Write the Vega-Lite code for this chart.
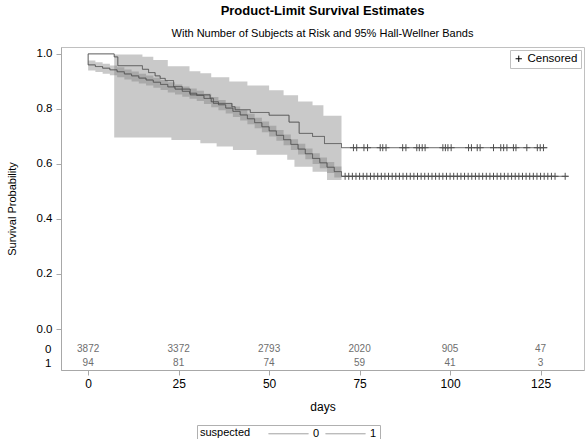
{
  "$schema": "https://vega.github.io/schema/vega-lite/v6.json",
  "width": 523,
  "height": 323,
  "autosize": "none",
  "padding": {"left": 61, "top": 47, "right": 1, "bottom": 69},
  "config": {
    "font": "Liberation Sans",
    "view": {"stroke": "#c0c0c0"},
    "axis": {"grid": false, "domainColor": "#a8a8a8", "tickColor": "#a8a8a8", "labelColor": "#000", "titleColor": "#000", "labelFont": "Liberation Sans", "titleFont": "Liberation Sans", "titleFontWeight": "normal"},
    "legend": {"labelFont": "Liberation Sans", "titleFont": "Liberation Sans"}
  },
  "title": {
    "text": "Product-Limit Survival Estimates",
    "subtitle": "With Number of Subjects at Risk and 95% Hall-Wellner Bands",
    "fontSize": 13,
    "fontWeight": "bold",
    "subtitleFontSize": 11,
    "subtitleColor": "#000",
    "subtitlePadding": 10,
    "anchor": "middle",
    "offset": 8
  },
  "datasets": {
    "band": [
      {"g": "1", "day": 7.2, "hi": 0.998, "lo": 0.696},
      {"g": "1", "day": 15, "hi": 0.99, "lo": 0.696},
      {"g": "1", "day": 18, "hi": 0.978, "lo": 0.696},
      {"g": "1", "day": 22, "hi": 0.955, "lo": 0.696},
      {"g": "1", "day": 23, "hi": 0.955, "lo": 0.687},
      {"g": "1", "day": 28, "hi": 0.937, "lo": 0.687},
      {"g": "1", "day": 31, "hi": 0.93, "lo": 0.675},
      {"g": "1", "day": 34, "hi": 0.915, "lo": 0.675},
      {"g": "1", "day": 35.5, "hi": 0.915, "lo": 0.663},
      {"g": "1", "day": 39, "hi": 0.9, "lo": 0.663},
      {"g": "1", "day": 40, "hi": 0.9, "lo": 0.651},
      {"g": "1", "day": 44, "hi": 0.885, "lo": 0.651},
      {"g": "1", "day": 46.5, "hi": 0.885, "lo": 0.633},
      {"g": "1", "day": 50, "hi": 0.868, "lo": 0.633},
      {"g": "1", "day": 54, "hi": 0.85, "lo": 0.633},
      {"g": "1", "day": 55, "hi": 0.85, "lo": 0.615},
      {"g": "1", "day": 57, "hi": 0.85, "lo": 0.59},
      {"g": "1", "day": 58, "hi": 0.827, "lo": 0.59},
      {"g": "1", "day": 62, "hi": 0.813, "lo": 0.572},
      {"g": "1", "day": 65, "hi": 0.775, "lo": 0.572},
      {"g": "1", "day": 66, "hi": 0.775, "lo": 0.542},
      {"g": "1", "day": 70, "hi": 0.775, "lo": 0.542},
      {"g": "0", "day": 0, "lo": 0.940, "hi": 0.976},
      {"g": "0", "day": 2, "lo": 0.934, "hi": 0.970},
      {"g": "0", "day": 4, "lo": 0.928, "hi": 0.964},
      {"g": "0", "day": 6, "lo": 0.922, "hi": 0.958},
      {"g": "0", "day": 8, "lo": 0.915, "hi": 0.951},
      {"g": "0", "day": 10, "lo": 0.907, "hi": 0.943},
      {"g": "0", "day": 12, "lo": 0.900, "hi": 0.936},
      {"g": "0", "day": 14, "lo": 0.892, "hi": 0.928},
      {"g": "0", "day": 16, "lo": 0.885, "hi": 0.921},
      {"g": "0", "day": 18, "lo": 0.877, "hi": 0.913},
      {"g": "0", "day": 20, "lo": 0.869, "hi": 0.905},
      {"g": "0", "day": 22, "lo": 0.860, "hi": 0.897},
      {"g": "0", "day": 24, "lo": 0.852, "hi": 0.889},
      {"g": "0", "day": 26, "lo": 0.844, "hi": 0.881},
      {"g": "0", "day": 28, "lo": 0.837, "hi": 0.874},
      {"g": "0", "day": 30, "lo": 0.829, "hi": 0.866},
      {"g": "0", "day": 32, "lo": 0.818, "hi": 0.855},
      {"g": "0", "day": 34, "lo": 0.806, "hi": 0.843},
      {"g": "0", "day": 36, "lo": 0.795, "hi": 0.832},
      {"g": "0", "day": 38, "lo": 0.783, "hi": 0.821},
      {"g": "0", "day": 40, "lo": 0.771, "hi": 0.809},
      {"g": "0", "day": 42, "lo": 0.758, "hi": 0.796},
      {"g": "0", "day": 44, "lo": 0.744, "hi": 0.782},
      {"g": "0", "day": 46, "lo": 0.730, "hi": 0.768},
      {"g": "0", "day": 48, "lo": 0.715, "hi": 0.754},
      {"g": "0", "day": 50, "lo": 0.700, "hi": 0.739},
      {"g": "0", "day": 52, "lo": 0.684, "hi": 0.723},
      {"g": "0", "day": 54, "lo": 0.668, "hi": 0.707},
      {"g": "0", "day": 56, "lo": 0.651, "hi": 0.690},
      {"g": "0", "day": 58, "lo": 0.634, "hi": 0.673},
      {"g": "0", "day": 60, "lo": 0.617, "hi": 0.656},
      {"g": "0", "day": 62, "lo": 0.600, "hi": 0.639},
      {"g": "0", "day": 64, "lo": 0.584, "hi": 0.623},
      {"g": "0", "day": 66, "lo": 0.567, "hi": 0.607},
      {"g": "0", "day": 68, "lo": 0.551, "hi": 0.591},
      {"g": "0", "day": 70, "lo": 0.534, "hi": 0.574}
    ],
    "curve": [
      {"g": "0", "day": 0, "s": 1.0},
      {"g": "0", "day": 0, "s": 0.960},
      {"g": "0", "day": 2, "s": 0.954},
      {"g": "0", "day": 4, "s": 0.948},
      {"g": "0", "day": 6, "s": 0.942},
      {"g": "0", "day": 8, "s": 0.935},
      {"g": "0", "day": 10, "s": 0.927},
      {"g": "0", "day": 12, "s": 0.920},
      {"g": "0", "day": 14, "s": 0.912},
      {"g": "0", "day": 16, "s": 0.905},
      {"g": "0", "day": 18, "s": 0.897},
      {"g": "0", "day": 20, "s": 0.889},
      {"g": "0", "day": 22, "s": 0.880},
      {"g": "0", "day": 24, "s": 0.872},
      {"g": "0", "day": 26, "s": 0.864},
      {"g": "0", "day": 28, "s": 0.857},
      {"g": "0", "day": 30, "s": 0.849},
      {"g": "0", "day": 32, "s": 0.838},
      {"g": "0", "day": 34, "s": 0.826},
      {"g": "0", "day": 36, "s": 0.815},
      {"g": "0", "day": 38, "s": 0.803},
      {"g": "0", "day": 40, "s": 0.791},
      {"g": "0", "day": 42, "s": 0.778},
      {"g": "0", "day": 44, "s": 0.764},
      {"g": "0", "day": 46, "s": 0.750},
      {"g": "0", "day": 48, "s": 0.735},
      {"g": "0", "day": 50, "s": 0.720},
      {"g": "0", "day": 52, "s": 0.704},
      {"g": "0", "day": 54, "s": 0.688},
      {"g": "0", "day": 56, "s": 0.671},
      {"g": "0", "day": 58, "s": 0.654},
      {"g": "0", "day": 60, "s": 0.637},
      {"g": "0", "day": 62, "s": 0.620},
      {"g": "0", "day": 64, "s": 0.604},
      {"g": "0", "day": 66, "s": 0.588},
      {"g": "0", "day": 68, "s": 0.572},
      {"g": "0", "day": 70, "s": 0.555},
      {"g": "0", "day": 132.7, "s": 0.555},
      {"g": "1", "day": 0, "s": 1.0},
      {"g": "1", "day": 7.2, "s": 0.989},
      {"g": "1", "day": 8.2, "s": 0.957},
      {"g": "1", "day": 15, "s": 0.944},
      {"g": "1", "day": 16.7, "s": 0.932},
      {"g": "1", "day": 18.5, "s": 0.92},
      {"g": "1", "day": 19.9, "s": 0.911},
      {"g": "1", "day": 21.3, "s": 0.903},
      {"g": "1", "day": 23.6, "s": 0.881},
      {"g": "1", "day": 26, "s": 0.872},
      {"g": "1", "day": 28.2, "s": 0.851},
      {"g": "1", "day": 33.7, "s": 0.839},
      {"g": "1", "day": 34.6, "s": 0.82},
      {"g": "1", "day": 39.7, "s": 0.808},
      {"g": "1", "day": 40.6, "s": 0.797},
      {"g": "1", "day": 44.8, "s": 0.787},
      {"g": "1", "day": 50, "s": 0.777},
      {"g": "1", "day": 55.5, "s": 0.752},
      {"g": "1", "day": 58.3, "s": 0.711},
      {"g": "1", "day": 62, "s": 0.70},
      {"g": "1", "day": 65.3, "s": 0.674},
      {"g": "1", "day": 70, "s": 0.659},
      {"g": "1", "day": 126.9, "s": 0.659}
    ],
    "cens": [
      {"g": "1", "day": 73.3, "s": 0.659}, {"g": "1", "day": 74.2, "s": 0.659},
      {"g": "1", "day": 76.2, "s": 0.659}, {"g": "1", "day": 77.2, "s": 0.659},
      {"g": "1", "day": 80.7, "s": 0.659}, {"g": "1", "day": 81.4, "s": 0.659},
      {"g": "1", "day": 82.3, "s": 0.659}, {"g": "1", "day": 86.9, "s": 0.659},
      {"g": "1", "day": 87.8, "s": 0.659}, {"g": "1", "day": 90.8, "s": 0.659},
      {"g": "1", "day": 91.5, "s": 0.659}, {"g": "1", "day": 92.3, "s": 0.659},
      {"g": "1", "day": 93.1, "s": 0.659}, {"g": "1", "day": 98.0, "s": 0.659},
      {"g": "1", "day": 98.7, "s": 0.659}, {"g": "1", "day": 99.4, "s": 0.659},
      {"g": "1", "day": 100.3, "s": 0.659}, {"g": "1", "day": 105.1, "s": 0.659},
      {"g": "1", "day": 105.9, "s": 0.659}, {"g": "1", "day": 107.5, "s": 0.659},
      {"g": "1", "day": 108.3, "s": 0.659}, {"g": "1", "day": 112.0, "s": 0.659},
      {"g": "1", "day": 114.0, "s": 0.659}, {"g": "1", "day": 114.8, "s": 0.659},
      {"g": "1", "day": 115.7, "s": 0.659}, {"g": "1", "day": 117.5, "s": 0.659},
      {"g": "1", "day": 118.2, "s": 0.659}, {"g": "1", "day": 121.2, "s": 0.659},
      {"g": "1", "day": 124.1, "s": 0.659}, {"g": "1", "day": 124.9, "s": 0.659},
      {"g": "1", "day": 125.8, "s": 0.659},
      {"g": "0", "day": 71, "s": 0.555}, {"g": "0", "day": 72, "s": 0.555}, {"g": "0", "day": 73, "s": 0.555},
      {"g": "0", "day": 74, "s": 0.555}, {"g": "0", "day": 75, "s": 0.555}, {"g": "0", "day": 76, "s": 0.555},
      {"g": "0", "day": 77, "s": 0.555}, {"g": "0", "day": 78, "s": 0.555}, {"g": "0", "day": 79, "s": 0.555},
      {"g": "0", "day": 80, "s": 0.555}, {"g": "0", "day": 81, "s": 0.555}, {"g": "0", "day": 82, "s": 0.555},
      {"g": "0", "day": 83, "s": 0.555}, {"g": "0", "day": 84, "s": 0.555}, {"g": "0", "day": 85, "s": 0.555},
      {"g": "0", "day": 86, "s": 0.555}, {"g": "0", "day": 87, "s": 0.555}, {"g": "0", "day": 88, "s": 0.555},
      {"g": "0", "day": 89, "s": 0.555}, {"g": "0", "day": 90, "s": 0.555}, {"g": "0", "day": 91, "s": 0.555},
      {"g": "0", "day": 92, "s": 0.555}, {"g": "0", "day": 93, "s": 0.555}, {"g": "0", "day": 94, "s": 0.555},
      {"g": "0", "day": 95, "s": 0.555}, {"g": "0", "day": 96, "s": 0.555}, {"g": "0", "day": 97, "s": 0.555},
      {"g": "0", "day": 98, "s": 0.555}, {"g": "0", "day": 99, "s": 0.555}, {"g": "0", "day": 100, "s": 0.555},
      {"g": "0", "day": 101, "s": 0.555}, {"g": "0", "day": 102, "s": 0.555}, {"g": "0", "day": 103, "s": 0.555},
      {"g": "0", "day": 104, "s": 0.555}, {"g": "0", "day": 105, "s": 0.555}, {"g": "0", "day": 106, "s": 0.555},
      {"g": "0", "day": 107, "s": 0.555}, {"g": "0", "day": 108, "s": 0.555}, {"g": "0", "day": 109, "s": 0.555},
      {"g": "0", "day": 110, "s": 0.555}, {"g": "0", "day": 111, "s": 0.555}, {"g": "0", "day": 112, "s": 0.555},
      {"g": "0", "day": 113, "s": 0.555}, {"g": "0", "day": 114, "s": 0.555}, {"g": "0", "day": 115, "s": 0.555},
      {"g": "0", "day": 116, "s": 0.555}, {"g": "0", "day": 117, "s": 0.555}, {"g": "0", "day": 118, "s": 0.555},
      {"g": "0", "day": 119, "s": 0.555}, {"g": "0", "day": 120, "s": 0.555}, {"g": "0", "day": 121, "s": 0.555},
      {"g": "0", "day": 122, "s": 0.555}, {"g": "0", "day": 123, "s": 0.555}, {"g": "0", "day": 124, "s": 0.555},
      {"g": "0", "day": 125, "s": 0.555}, {"g": "0", "day": 126, "s": 0.555}, {"g": "0", "day": 127, "s": 0.555},
      {"g": "0", "day": 128, "s": 0.555}, {"g": "0", "day": 129, "s": 0.555}, {"g": "0", "day": 131.8, "s": 0.555}
    ],
    "risk": [
      {"g": "0", "day": 0, "n": 3872}, {"g": "0", "day": 25, "n": 3372}, {"g": "0", "day": 50, "n": 2793},
      {"g": "0", "day": 75, "n": 2020}, {"g": "0", "day": 100, "n": 905}, {"g": "0", "day": 125, "n": 47},
      {"g": "1", "day": 0, "n": 94}, {"g": "1", "day": 25, "n": 81}, {"g": "1", "day": 50, "n": 74},
      {"g": "1", "day": 75, "n": 59}, {"g": "1", "day": 100, "n": 41}, {"g": "1", "day": 125, "n": 3}
    ]
  },
  "resolve": {"scale": {"y": "independent"}},
  "layer": [
    {
      "layer": [
        {
          "data": {"name": "band"},
          "mark": {"type": "area", "interpolate": "step-after", "fill": "#7f7f7f", "opacity": 0.42},
          "encoding": {
            "x": {"field": "day", "type": "quantitative", "scale": {"domain": [-7.5, 137], "nice": false, "zero": false},
                  "axis": {"values": [0, 25, 50, 75, 100, 125], "title": "days", "labelFontSize": 12, "titleFontSize": 12, "tickSize": 5, "labelPadding": 3, "titlePadding": 12}},
            "y": {"field": "lo", "type": "quantitative", "scale": {"domain": [-0.149, 1.025], "nice": false, "zero": false},
                  "axis": {"values": [0, 0.2, 0.4, 0.6, 0.8, 1.0], "format": ".1f", "title": "Survival Probability", "labelFontSize": 11.5, "titleFontSize": 11, "tickSize": 5, "labelPadding": 4, "titlePadding": 19}},
            "y2": {"field": "hi"},
            "detail": {"field": "g", "type": "nominal"}
          }
        },
        {
          "data": {"name": "curve"},
          "mark": {"type": "line", "interpolate": "step-after", "stroke": "#505050", "strokeWidth": 1},
          "encoding": {
            "x": {"field": "day", "type": "quantitative"},
            "y": {"field": "s", "type": "quantitative"},
            "strokeDash": {"field": "g", "type": "nominal", "scale": {"domain": ["0", "1"], "range": [[1, 0], [1, 0]]},
              "legend": {"title": "suspected", "orient": "none", "legendX": 136, "legendY": 378, "direction": "horizontal", "titleOrient": "left",
                "strokeColor": "#b0b0b0", "padding": 3, "symbolType": "M-4,0H4", "symbolSize": 100, "symbolStrokeColor": "#909090", "symbolStrokeWidth": 1,
                "labelFontSize": 11, "titleFontSize": 11, "titleFontWeight": "normal", "titlePadding": 32, "columnPadding": 3, "labelOffset": 19}}
          }
        },
        {
          "data": {"name": "cens"},
          "mark": {"type": "point", "filled": false, "stroke": "#505050", "strokeWidth": 1, "size": 49, "opacity": 1},
          "encoding": {
            "x": {"field": "day", "type": "quantitative"},
            "y": {"field": "s", "type": "quantitative"},
            "shape": {"datum": "Censored", "scale": {"range": ["M-1,0H1M0,-1V1"]},
              "legend": {"title": null, "orient": "top-right", "offset": 3, "strokeColor": "#c0c0c0", "padding": 3,
                "symbolStrokeColor": "#000", "symbolSize": 40, "symbolStrokeWidth": 1, "labelFontSize": 11.5, "labelOffset": 3}}
          }
        }
      ]
    },
    {
      "data": {"name": "risk"},
      "mark": {"type": "text", "fontSize": 10, "fill": "#6e6e6e", "baseline": "middle"},
      "encoding": {
        "x": {"field": "day", "type": "quantitative"},
        "y": {"field": "g", "type": "nominal", "scale": {"type": "point", "domain": ["0", "1"], "range": [302, 316], "padding": 0},
              "axis": {"orient": "left", "title": null, "domain": false, "ticks": false, "labelPadding": 10, "labelFontSize": 11.5, "labelAngle": 0}},
        "text": {"field": "n", "type": "quantitative"}
      }
    }
  ]
}
